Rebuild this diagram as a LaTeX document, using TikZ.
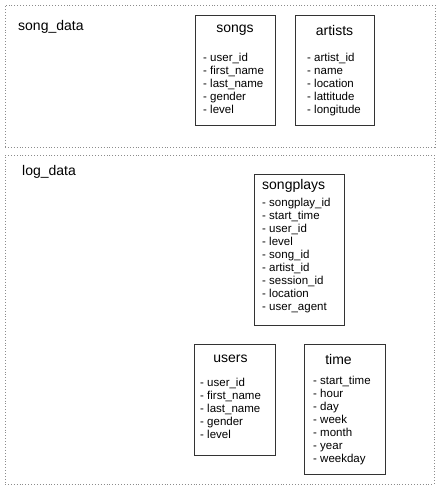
\documentclass[tikz,border=0pt]{standalone}
\usepackage{fontspec}
\setmainfont{Liberation Sans}
\usetikzlibrary{positioning, calc}
\colorlet{colour_box}{black!80}
\colorlet{colour_frame}{gray!90}

\begin{document}
\begin{tikzpicture}
   [
      x=1pt, y=-1pt,
      frame/.style={draw=colour_frame, dotted, line width=0.9pt, inner sep=0pt, outer sep=0pt},
      frame label/.style={font=\fontsize{14}{16}\selectfont, inner sep=0pt},
      table/.style={draw=colour_box, line width=1pt, fill=white, inner sep=0pt, outer sep=0pt},
      table title/.style={font=\fontsize{14}{16}\selectfont, inner sep=0pt},
      field list/.style={font=\fontsize{11.5}{13}\selectfont, align=left, anchor=north west, inner sep=0pt}
   ]

   \useasboundingbox (0,0) rectangle (440,490);

   % =======================================================
   % Frames
   % =======================================================

   \node[frame, minimum width=430pt, minimum height=142pt] (song_frame) at (220,76) {};
   \node[frame label, below right=15pt and 13pt of song_frame.north west] (song_label) {song\_data};

   \node[frame, minimum width=429pt, minimum height=329pt] (log_frame) at (219.5,319.5) {};
   \node[frame label, below right=10pt and 17pt of log_frame.north west] (log_label) {log\_data};

   % =======================================================
   % Tables from song_data
   % =======================================================

   \node[table, minimum width=80pt, minimum height=110pt] (songs) at (235,70) {};
   \node[table title] (songs_title) at ($(songs.north)+(0,15)$) {songs};
   \node[field list] (songs_fields) at ($(songs.north west)+(8,38)$)
      {- user\_id\\- first\_name\\- last\_name\\- gender\\- level};

   \node[table, minimum width=79pt, minimum height=110pt] (artists) at (334.5,70) {};
   \node[table title] (artists_title) at ($(artists.north)+(0,15)$) {artists};
   \node[field list] (artists_fields) at ($(artists.north west)+(12,38)$)
      {- artist\_id\\- name\\- location\\- lattitude\\- longitude};

   % =======================================================
   % Tables from log_data
   % =======================================================

   \node[table, minimum width=90pt, minimum height=151pt] (songplays) at (299,249.5) {};
   \node[table title, anchor=west] (songplays_title) at ($(songplays.north west)+(8,12)$) {songplays};
   \node[field list] (songplays_fields) at ($(songplays.north west)+(8,24)$)
      {- songplay\_id\\- start\_time\\- user\_id\\- level\\- song\_id\\- artist\_id\\- session\_id\\- location\\- user\_agent};

   \node[table, minimum width=81pt, minimum height=111pt] (users) at (234.5,399.5) {};
   \node[table title] (users_title) at ($(users.north)+(-4,15)$) {users};
   \node[field list] (users_fields) at ($(users.north west)+(6,34)$)
      {- user\_id\\- first\_name\\- last\_name\\- gender\\- level};

   \node[table, minimum width=81pt, minimum height=130pt] (time) at (344.5,409) {};
   \node[table title] (time_title) at ($(time.north)+(-6,15)$) {time};
   \node[field list] (time_fields) at ($(time.north west)+(9,32)$)
      {- start\_time\\- hour\\- day\\- week\\- month\\- year\\- weekday};

\end{tikzpicture}
\end{document}
